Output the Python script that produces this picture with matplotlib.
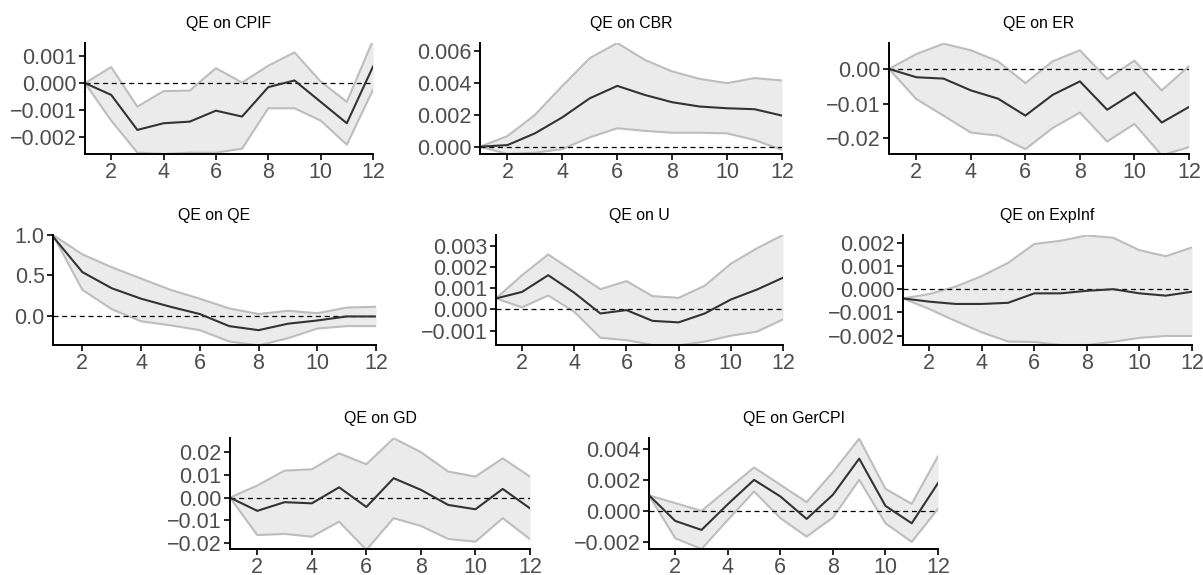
import numpy as np
import matplotlib
matplotlib.use('Agg')
import matplotlib.pyplot as plt
from matplotlib.ticker import FuncFormatter

plt.rcParams['font.family'] = ['Liberation Sans', 'DejaVu Sans']

horizon = list(range(1, 13))

# impulse responses: mean, lower band, upper band
cpif_mean = [0, -0.00044, -0.00175, -0.0015, -0.00144, -0.00103, -0.00125, -0.00015, 0.0001, -0.0007, -0.0015, 0.00062]
cpif_low = [0, -0.0014, -0.0026, -0.00265, -0.0026, -0.0026, -0.00245, -0.00094, -0.00094, -0.0014, -0.0023, -0.00025]
cpif_up = [0, 0.0006, -0.00088, -0.0003, -0.00028, 0.00056, 0.00002, 0.00065, 0.00115, 0.00006, -0.0007, 0.0016]

cbr_mean = [0, 0.0001, 0.00084, 0.00185, 0.00305, 0.00383, 0.00326, 0.0028, 0.00253, 0.00242, 0.00236, 0.00196]
cbr_low = [0, -0.00046, -0.00038, -0.00015, 0.00059, 0.00116, 0.001, 0.00088, 0.00088, 0.00084, 0.00042, -0.0002]
cbr_up = [0, 0.00067, 0.002, 0.00383, 0.00558, 0.00653, 0.00547, 0.00474, 0.00427, 0.004, 0.00432, 0.00417]

er_mean = [0, -0.0024, -0.0028, -0.0062, -0.0086, -0.0135, -0.0075, -0.0036, -0.0118, -0.0068, -0.0155, -0.011]
er_low = [0, -0.0087, -0.0135, -0.0184, -0.0193, -0.0232, -0.0171, -0.0126, -0.021, -0.0159, -0.0250, -0.0226]
er_up = [0, 0.0043, 0.0073, 0.0054, 0.0022, -0.0041, 0.0022, 0.0054, -0.0029, 0.0024, -0.0062, 0.0008]

qe_mean = [0.98, 0.54, 0.34, 0.21, 0.11, 0.02, -0.13, -0.18, -0.1, -0.06, -0.01, -0.01]
qe_low = [1.0, 0.32, 0.08, -0.07, -0.12, -0.18, -0.32, -0.37, -0.28, -0.16, -0.13, -0.13]
qe_up = [1.0, 0.76, 0.6, 0.46, 0.32, 0.21, 0.09, 0.02, 0.06, 0.03, 0.1, 0.11]

u_mean = [0.00052, 0.00083, 0.00162, 0.00079, -0.00019, -0.00003, -0.00054, -0.00061, -0.00019, 0.00047, 0.00094, 0.0015]
u_low = [0.00052, 0.0001, 0.00066, -0.00011, -0.00134, -0.00145, -0.00168, -0.0017, -0.00152, -0.00124, -0.00105, -0.00047]
u_up = [0.00052, 0.00162, 0.0026, 0.00178, 0.00096, 0.00134, 0.00063, 0.00055, 0.00112, 0.00216, 0.00289, 0.00352]

exp_mean = [-0.00039, -0.00053, -0.00063, -0.00063, -0.00058, -0.00017, -0.00017, -0.00006, 0.00001, -0.00017, -0.00027, -0.0001]
exp_low = [-0.00039, -0.00085, -0.00137, -0.00186, -0.00226, -0.00228, -0.00241, -0.00241, -0.00227, -0.0021, -0.00202, -0.00202]
exp_up = [-0.00039, -0.0002, 0.00012, 0.00058, 0.00115, 0.00197, 0.00211, 0.00234, 0.00224, 0.0017, 0.00144, 0.00182]

gd_mean = [0, -0.0058, -0.002, -0.0025, 0.0045, -0.0041, 0.0085, 0.0034, -0.0032, -0.0051, 0.0038, -0.0047]
gd_low = [0, -0.0164, -0.0159, -0.0171, -0.0105, -0.0229, -0.009, -0.0124, -0.0181, -0.0193, -0.009, -0.0182]
gd_up = [0, 0.0053, 0.0118, 0.0124, 0.0194, 0.0146, 0.026, 0.0199, 0.0114, 0.0092, 0.0172, 0.0092]

ger_mean = [0.001, -0.00065, -0.00123, 0.00043, 0.002, 0.00093, -0.00052, 0.00104, 0.00337, 0.00032, -0.0008, 0.00179]
ger_low = [0.001, -0.00177, -0.00246, -0.00058, 0.00125, -0.00047, -0.00166, -0.00043, 0.002, -0.0008, -0.002, 0.00013]
ger_up = [0.001, 0.0005, 0.0, 0.0014, 0.0028, 0.00168, 0.00056, 0.0025, 0.00466, 0.00142, 0.00045, 0.00352]

W, H = 1203, 575
fig = plt.figure(figsize=(W / 100, H / 100), dpi=100)


def panel(px, title, mean, low, up, ylim, yticks, dec):
    # px = (left, top, right, bottom) in pixels
    l, t, r, b = px
    ax = fig.add_axes([l / W, 1 - b / H, (r - l) / W, (b - t) / H])
    ax.fill_between(horizon, low, up, color='#EBEBEB', lw=0)
    ax.plot(horizon, low, color='#BDBDBD', lw=1.5)
    ax.plot(horizon, up, color='#BDBDBD', lw=1.5)
    ax.axhline(0, color='black', lw=0.9, ls=(0, (4, 3)))
    ax.plot(horizon, mean, color='#333333', lw=1.5)
    ax.set_xlim(1, 12)
    ax.set_ylim(*ylim)
    ax.set_xticks([2, 4, 6, 8, 10, 12])
    ax.set_yticks(yticks)
    fmt = '%.' + str(dec) + 'f'
    ax.yaxis.set_major_formatter(FuncFormatter(
        lambda v, p: (fmt % (0 if abs(v) < 1e-12 else v)).replace('-', '\u2212')))
    for s in ['top', 'right']:
        ax.spines[s].set_visible(False)
    for s in ['left', 'bottom']:
        ax.spines[s].set_linewidth(1.4)
    ax.tick_params(labelsize=15.5, labelcolor='#4D4D4D', length=4, width=1.2,
                   pad=2)
    ax.set_title(title, fontsize=11.4, pad=10.5)
    return ax


panel((85, 43, 373, 154), 'QE on CPIF', cpif_mean, cpif_low, cpif_up,
      (-0.00265, 0.0015), [-0.002, -0.001, 0, 0.001], 3)
panel((480, 43, 782, 154), 'QE on CBR', cbr_mean, cbr_low, cbr_up,
      (-0.00046, 0.00653), [0, 0.002, 0.004, 0.006], 3)
panel((889, 43, 1189, 154), 'QE on ER', er_mean, er_low, er_up,
      (-0.0246, 0.0075), [-0.02, -0.01, 0], 2)

panel((53, 235, 376, 345), 'QE on QE', qe_mean, qe_low, qe_up,
      (-0.364, 1.0), [0, 0.5, 1.0], 1)
panel((496, 235, 783, 345), 'QE on U', u_mean, u_low, u_up,
      (-0.00168, 0.00352), [-0.001, 0, 0.001, 0.002, 0.003], 3)
panel((903, 235, 1192, 345), 'QE on ExpInf', exp_mean, exp_low, exp_up,
      (-0.00241, 0.00236), [-0.002, -0.001, 0, 0.001, 0.002], 3)

panel((230, 438, 530, 549), 'QE on GD', gd_mean, gd_low, gd_up,
      (-0.0225, 0.0261), [-0.02, -0.01, 0, 0.01, 0.02], 2)
panel((649, 438, 938, 549), 'QE on GerCPI', ger_mean, ger_low, ger_up,
      (-0.00246, 0.0047), [-0.002, 0, 0.002, 0.004], 3)

fig.savefig('out.png', dpi=100)
